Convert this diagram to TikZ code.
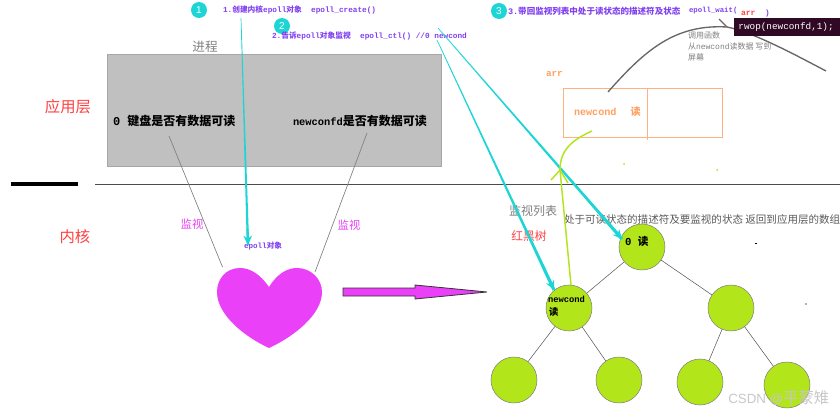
\documentclass[tikz,border=0pt]{standalone}
\usepackage{fontspec}
\setmainfont{Liberation Mono}
\setsansfont{Liberation Sans}
\newfontfamily\cjk{Noto Sans CJK SC}
\usetikzlibrary{arrows.meta,positioning,calc}
\definecolor{violet}{HTML}{8040F0}
\definecolor{teal}{HTML}{1ED5D5}
\definecolor{rose}{HTML}{FF4040}
\definecolor{pink}{HTML}{EA40F7}
\definecolor{lime}{HTML}{B2E51A}
\definecolor{peach}{HTML}{FF9F60}
\definecolor{mute}{HTML}{808080}
\definecolor{slab}{HTML}{C0C0C0}
\definecolor{term}{HTML}{300A24}
\newcommand{\zh}[1]{{\cjk #1}}
\newcommand{\fpx}[1]{\fontsize{#1}{#1}\selectfont}
\newcommand{\taper}[3]{\fill[teal] ($(#1)!.25pt!90:(#2)$) -- ($(#1)!.25pt!-90:(#2)$) -- ($(#2)!#3!90:(#1)$) -- ($(#2)!#3!-90:(#1)$) -- cycle;}

\begin{document}
\begin{tikzpicture}[x=.75pt,y=-.75pt,
  txt/.style={anchor=west,inner sep=0pt,outer sep=0pt},
  step note/.style={txt,font=\fpx{5.8}\bfseries,text=violet},
  layer/.style={inner sep=0pt,font=\fpx{11.5},text=rose},
  watch/.style={inner sep=0pt,font=\fpx{8.5},text=pink},
  badge/.style={circle,fill=teal,minimum size=12pt,inner sep=0pt,font=\sffamily\fpx{7.5},text=white},
  tree node/.style={circle,fill=lime,draw=mute,line width=.4pt,minimum size=34.5pt,inner sep=0pt},
  tree edge/.style={draw=black!65,line width=.4pt},
  gray link/.style={draw=mute,line width=.5pt},
  pull/.style={-{Stealth[length=7pt,width=6.5pt]},teal,line width=1.2pt}]
\useasboundingbox (0,0) rectangle (840,414);
% layer split
\draw[black,line width=2.4pt] (11,184) -- (78,184);
\draw[black!70,line width=.7pt] (95,184) -- (840,184);
\node[layer] (app) at (68,107) {\zh{应用层}};
\node[layer] (kernel) at (75,237) {\zh{内核}};
% process
\node[draw=black!35,line width=.7pt,fill=slab,minimum width=251pt,minimum height=84pt,inner sep=0pt] (proc) at (274.5,110) {};
\node[inner sep=0pt,font=\fpx{9.5},text=mute] (proctitle) at (205,47) {\zh{进程}};
\node[txt,font=\fpx{9}\bfseries] (fdzero) at (113,121) {0 \zh{键盘是否有数据可读}};
\node[txt,font=\fpx{9}\bfseries] (fdnew) at (293,121) {{\fpx{7.8}newconfd}\zh{是否有数据可读}};
\coordinate (w1a) at (169,136);
\coordinate (w1b) at (222.5,267);
\coordinate (w2a) at (367,133);
\coordinate (w2b) at (315,272);
\draw[gray link] (w1a) -- (w1b);
\draw[gray link] (w2a) -- (w2b);
\node[watch] (watchl) at (192,224) {\zh{监视}};
\node[watch] (watchr) at (349,225) {\zh{监视}};
% heart
\fill[pink] (269,287) .. controls (260,274) and (250,268) .. (240,268) .. controls (226,268) and (217,279) .. (217,292)
  .. controls (217,315) and (245,337) .. (269,348) .. controls (293,337) and (322,315) .. (322,292)
  .. controls (322,279) and (311,268) .. (297,268) .. controls (287,268) and (277,274) .. (269,287) -- cycle;
\draw[fill=pink,draw=black!80,line width=.6pt] (343,288) -- (415,288) -- (415,285) -- (487,292) -- (415,299) -- (415,296) -- (343,296) -- cycle;
\node[txt,font=\fpx{5.7}\bfseries,text=violet] (epobj) at (244,246) {epoll\zh{对象}};
% steps
\foreach \n/\x/\y in {1/199/10,2/282/26,3/499/11}
  \node[badge] (b\n) at (\x,\y) {\n};
\node[step note] (s1) at (223,10) {1.\zh{创建内核}epoll\zh{对象}\ \ epoll\_create()};
\node[step note] (s2) at (272,36) {2.\zh{告诉}epoll\zh{对象监视}\ \ epoll\_ctl() //0 newcond};
\node[step note,font=\fpx{6.4}\bfseries] (s3) at (508,11) {3.\zh{带回监视列表中处于读状态的描述符及状态}};
\node[step note,font=\fpx{5.5}\bfseries] (s3b) at (689,11) {epoll\_wait(};
\node[txt,font=\fpx{6}\bfseries,text=rose] (arrcall) at (741,13) {arr};
\node[step note] (s3c) at (765,14) {)};
% array in user space
\node[txt,font=\fpx{7}\bfseries,text=peach] (arrname) at (546,74) {arr};
\node[draw=peach!80,line width=.7pt,minimum width=63pt,minimum height=36.75pt,inner sep=0pt] (cell1) at (605,112.5) {};
\node[draw=peach!80,line width=.7pt,minimum width=56.25pt,minimum height=36.75pt,inner sep=0pt] (cell2) at (684.5,112.5) {};
\draw[peach!80,line width=.7pt] (cell1.south east) -- ++(0,3);
\node[txt,font=\fpx{7.6}\bfseries,text=peach] (cellt) at (574,112) {newcond\hspace{10.5pt}\zh{读}};
% call to rwop
\coordinate (ca) at (608,92);
\coordinate (cb) at (727,27);
\coordinate (cc) at (826,71);
\coordinate (cd) at (719,19);
\draw[black!60,line width=1pt] (ca) .. controls (645,50) and (675,24) .. (cb) .. controls (752,32) and (790,52) .. (cc);
\draw[black!60,line width=1pt] (cd) -- (cb);
\node[anchor=west,fill=term,text=white,font=\fpx{7},inner sep=0pt,minimum width=79.5pt,minimum height=13.5pt,text width=75.5pt,align=left] (rwop) at (734,27) {\,rwop(newconfd,1);};
\node[txt,font=\fpx{6},text=mute] (call1) at (688,35) {\zh{调用函数}};
\node[txt,font=\fpx{6},text=mute] (call2) at (688,46) {\zh{从}newcond\zh{读数据 写到}};
\node[txt,font=\fpx{6},text=mute] (call3) at (688,57) {\zh{屏幕}};
% tree
\node[inner sep=0pt,font=\fpx{9},text=mute] (treet) at (533,211) {\zh{监视列表}};
\node[inner sep=0pt,font=\fpx{8.8},text=rose] (treen) at (529,236) {\zh{红黑树}};
\node[txt,font=\fpx{7.9},text=black!65] (ready) at (564,220) {\zh{处于可读状态的描述符及要监视的状态 返回到应用层的数组}};
\foreach \k/\x/\y in {root/642/247,nl/569/308,nr/731/308,ll/514/380,lr/619/380,rl/700/382,rr/787/385}
  \node[tree node] (\k) at (\x,\y) {};
\foreach \a/\b in {root/nl,root/nr,nl/ll,nl/lr,nr/rl,nr/rr}
  \draw[tree edge] (\a) -- (\b);
\node[txt,font=\fpx{8}\bfseries] (rootl) at (625,241) {0 \zh{读}};
\node[txt,font=\fpx{6.6}\bfseries] (nla) at (548,299) {newcond};
\node[txt,font=\fpx{7}\bfseries] (nlb) at (549,312) {\zh{读}};
% step arrows
\coordinate (t1) at (241,18);
\coordinate (h1) at (248,245);
\coordinate (t2) at (437,40);
\coordinate (h2) at (554,290);
\coordinate (t3) at (438,28);
\coordinate (h3) at (622,239);
\taper{t1}{h1}{.9pt}
\taper{t2}{h2}{1.2pt}
\taper{t3}{h3}{1.2pt}
\draw[pull,line width=1.6pt] ($(t1)!.93!(h1)$) -- (h1);
\draw[pull,line width=2pt] ($(t2)!.9!(h2)$) -- (h2);
\draw[pull,line width=2pt] ($(t3)!.9!(h3)$) -- (h3);
% ready node back to array
\coordinate (g0) at (571,285);
\coordinate (g1) at (560,170);
\coordinate (g2) at (592,131);
\coordinate (g3) at (551,180);
\coordinate (g4) at (568,183);
\draw[lime,line width=1.1pt] (g0) -- (g1) .. controls (560,150) and (572,140) .. (g2);
\draw[lime,line width=1.1pt] (g3) -- (g1) -- (g4);
% specks
\fill[lime] (624,164) circle (1);
\fill[lime] (717,170) circle (1);
\fill[black] (755,243) rectangle (757,244);
\fill[black!30] (805,303) rectangle (807,305);
\node[anchor=west,inner sep=0pt,font=\sffamily\fpx{10},text=black!22] (mark) at (728,398) {CSDN @\zh{\fpx{11.5}平蒙雉}};
\end{tikzpicture}
\end{document}
